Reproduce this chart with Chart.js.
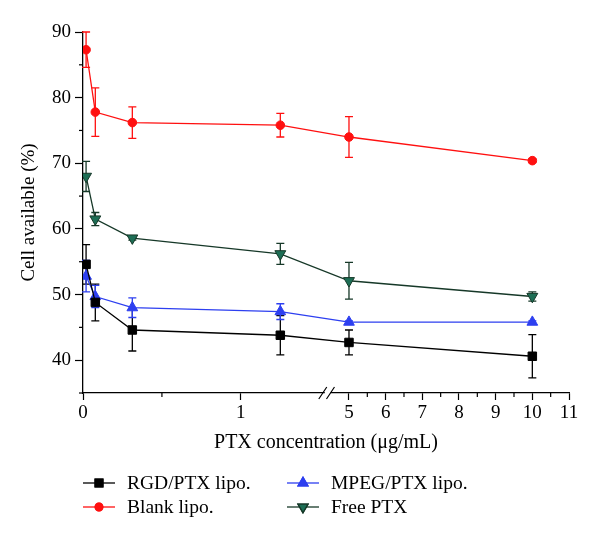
<!DOCTYPE html>
<html>
<head>
<meta charset="utf-8">
<script src="https://cdn.jsdelivr.net/npm/chart.js@4/dist/chart.umd.min.js"></script>
<style>
  html, body { margin: 0; padding: 0; background: #fff; }
  #wrap { width: 600px; height: 541px; position: relative; }
</style>
</head>
<body>
<div id="wrap"><canvas id="c" width="600" height="541"></canvas></div>
<script>
// ---- data ----
const concentrations = [0.0195, 0.078, 0.3125, 1.25, 5, 10];   // µg/mL
const seriesNames = ['RGD/PTX lipo.', 'Blank lipo.', 'MPEG/PTX lipo.', 'Free PTX'];
const rgdMean   = [54.6, 48.8, 44.6, 43.8, 42.7, 40.6];
const rgdErr    = [3.0, 2.8, 3.2, 3.0, 1.9, 3.3];
const blankMean = [87.3, 77.8, 76.2, 75.8, 74.0, 70.4];
const blankErr  = [2.7, 3.7, 2.4, 1.8, 3.1, 0.3];
const mpegMean  = [52.8, 49.7, 48.0, 47.4, 45.8, 45.8];
const mpegErr   = [2.4, 1.7, 1.5, 1.2, 0.2, 0.2];
const freeMean  = [68.0, 61.5, 58.6, 56.2, 52.1, 49.7];
const freeErr   = [2.3, 1.0, 0.3, 1.6, 2.8, 0.7];
const xTickValues = [0, 0.5, 1, 5, 5.5, 6, 6.5, 7, 7.5, 8, 8.5, 9, 9.5, 10, 10.5, 11];
const yTickValues = [35, 40, 45, 50, 55, 60, 65, 70, 75, 80, 85, 90];

// ---- broken x axis: map real concentration to axis coordinate ----
const BREAK_LO = 1.5, BREAK_HI = 4.55;
const RIGHT_START = 1.685, RIGHT_SCALE = 0.2323;
function u(x) { return x <= BREAK_LO + 0.1 ? x : RIGHT_START + (x - 5) * RIGHT_SCALE; }

const FONT = '"Liberation Serif", "DejaVu Serif", serif';
const FS = 19;

function pts(means) { return concentrations.map((c, i) => ({ x: u(c), y: means[i] })); }

const styles = [
  { color: '#000000', fill: '#000000', style: 'rect', radius: 6, rotation: 0 },
  { color: '#ff1010', fill: '#ff1010', style: 'circle', radius: 4.3, rotation: 0 },
  { color: '#2d3ff0', fill: '#2d3ff0', style: 'triangle', radius: 6.2, rotation: 0 },
  { color: '#163828', fill: '#1d6e55', style: 'triangle', radius: 6.3, rotation: 180 }
];
const means = [rgdMean, blankMean, mpegMean, freeMean];
const errs = [rgdErr, blankErr, mpegErr, freeErr];

const datasets = seriesNames.map((name, k) => ({
  label: name,
  data: pts(means[k]),
  errors: errs[k],
  borderColor: styles[k].color,
  backgroundColor: styles[k].fill,
  pointBorderColor: styles[k].color,
  pointBackgroundColor: styles[k].fill,
  pointStyle: styles[k].style,
  pointRadius: styles[k].radius,
  pointRotation: styles[k].rotation,
  pointBorderWidth: 1,
  borderWidth: 1.3,
  tension: 0,
  showLine: true
}));

const errorBars = {
  id: 'errorBars',
  beforeDatasetsDraw(chart) {
    const ctx = chart.ctx, ys = chart.scales.y, xs = chart.scales.x;
    chart.data.datasets.forEach(ds => {
      ctx.save();
      ctx.strokeStyle = ds.borderColor;
      ctx.lineWidth = 1.3;
      ds.data.forEach((p, i) => {
        const e = ds.errors[i];
        if (!e) return;
        const px = xs.getPixelForValue(p.x);
        const top = ys.getPixelForValue(p.y + e), bot = ys.getPixelForValue(p.y - e);
        ctx.beginPath();
        ctx.moveTo(px, top); ctx.lineTo(px, bot);
        ctx.moveTo(px - 4, top); ctx.lineTo(px + 4, top);
        ctx.moveTo(px - 4, bot); ctx.lineTo(px + 4, bot);
        ctx.stroke();
      });
      ctx.restore();
    });
  }
};

const extras = {
  id: 'extras',
  afterDraw(chart) {
    const ctx = chart.ctx, xs = chart.scales.x, ys = chart.scales.y;
    const area = chart.chartArea;
    ctx.save();
    ctx.strokeStyle = '#000';
    ctx.lineWidth = 1.2;
    // minor ticks
    xTickValues.forEach(v => {
      if (Number.isInteger(v)) return;
      const px = xs.getPixelForValue(u(v));
      ctx.beginPath(); ctx.moveTo(px, area.bottom); ctx.lineTo(px, area.bottom + 4); ctx.stroke();
    });
    yTickValues.forEach(v => {
      if (v % 10 === 0) return;
      const py = ys.getPixelForValue(v);
      ctx.beginPath(); ctx.moveTo(area.left, py); ctx.lineTo(area.left - 4, py); ctx.stroke();
    });
    // axis break
    const b0 = xs.getPixelForValue(u(BREAK_LO)) + 1;
    const b1 = xs.getPixelForValue(u(BREAK_HI));
    ctx.fillStyle = '#fff';
    ctx.fillRect(b0 + 4, area.bottom - 2, (b1 - b0) - 6, 4);
    ctx.beginPath();
    ctx.moveTo(b0 - 2, area.bottom + 6); ctx.lineTo(b0 + 6, area.bottom - 6);
    ctx.moveTo(b1 - 6, area.bottom + 6); ctx.lineTo(b1 + 2, area.bottom - 6);
    ctx.stroke();
    ctx.restore();

    // legend
    const rows = [483, 507], cols = [83, 287];
    const order = [[0, 0, 0], [1, 0, 1], [2, 1, 0], [3, 1, 1]]; // dataset, col, row
    ctx.save();
    ctx.font = '19.5px ' + FONT;
    ctx.textBaseline = 'middle';
    order.forEach(([k, c, r]) => {
      const ds = chart.data.datasets[k];
      const x0 = cols[c], y0 = rows[r];
      ctx.strokeStyle = ds.borderColor; ctx.lineWidth = 1.3;
      ctx.beginPath(); ctx.moveTo(x0, y0); ctx.lineTo(x0 + 32, y0); ctx.stroke();
      Chart.helpers.drawPoint(ctx, {
        pointStyle: ds.pointStyle, radius: ds.pointRadius - 0.5, rotation: ds.pointRotation,
        borderWidth: 1
      }, x0 + 16, y0);
      ctx.fillStyle = ds.pointBackgroundColor; ctx.strokeStyle = ds.pointBorderColor;
      ctx.fill(); ctx.stroke();
      ctx.fillStyle = '#000';
      ctx.fillText(ds.label, x0 + 44, y0 + 1);
    });
    ctx.restore();
  }
};

new Chart(document.getElementById('c'), {
  type: 'scatter',
  data: { datasets },
  plugins: [errorBars, extras],
  options: {
    responsive: false,
    animation: false,
    devicePixelRatio: 1,
    layout: { padding: { top: 32, right: 31, bottom: 0, left: 0 } },
    plugins: { legend: { display: false }, tooltip: { enabled: false } },
    scales: {
      x: {
        type: 'linear',
        min: 0,
        max: u(11),
        afterFit(s) { s.height = 148; },
        afterBuildTicks(s) { s.ticks = xTickValues.map(v => ({ value: u(v) })); },
        ticks: {
          autoSkip: false,
          maxRotation: 0,
          padding: 2,
          color: '#000',
          font: { family: FONT, size: FS },
          callback: (val, i) => Number.isInteger(xTickValues[i]) ? String(xTickValues[i]) : ''
        },
        grid: {
          drawOnChartArea: false,
          drawTicks: true,
          tickLength: 7,
          tickWidth: 1.2,
          tickColor: c => (c.tick && Number.isInteger(xTickValues[c.index])) ? '#000' : 'rgba(0,0,0,0)'
        },
        border: { display: true, color: '#000', width: 1.3 },
        title: {
          display: true,
          text: 'PTX concentration (\u03bcg/mL)',
          color: '#000',
          font: { family: FONT, size: 20 },
          padding: { top: 0, bottom: 86 }
        }
      },
      y: {
        type: 'linear',
        min: 35,
        max: 90,
        afterFit(s) { s.width = 83; },
        afterBuildTicks(s) { s.ticks = yTickValues.map(v => ({ value: v })); },
        ticks: {
          autoSkip: false,
          padding: 4,
          color: '#000',
          font: { family: FONT, size: FS },
          callback: v => (v % 10 === 0) ? String(v) : ''
        },
        grid: {
          drawOnChartArea: false,
          drawTicks: true,
          tickLength: 8,
          tickWidth: 1.2,
          tickColor: c => (c.tick && c.tick.value % 10 === 0) ? '#000' : 'rgba(0,0,0,0)'
        },
        border: { display: true, color: '#000', width: 1.3 },
        title: {
          display: true,
          text: 'Cell available (%)',
          color: '#000',
          font: { family: FONT, size: 19 },
          padding: { top: 18, bottom: 0 }
        }
      }
    }
  }
});
</script>
</body>
</html>
